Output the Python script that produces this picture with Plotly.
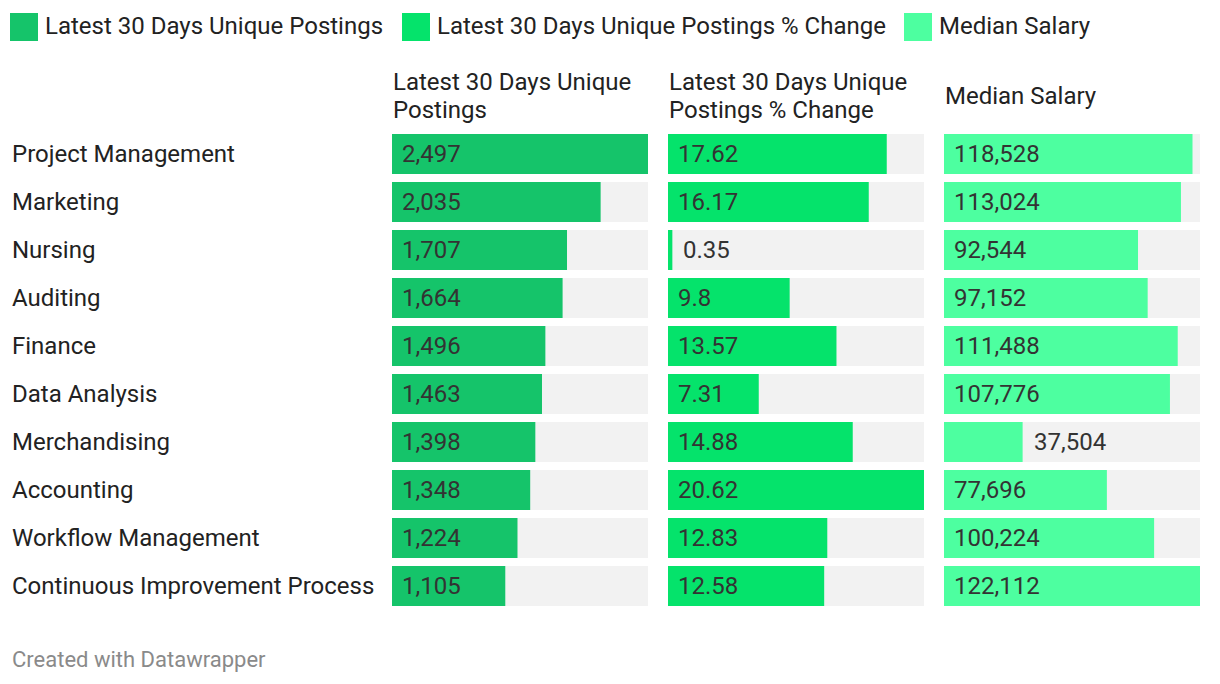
import plotly.graph_objects as go

categories = ["Project Management", "Marketing", "Nursing", "Auditing", "Finance",
              "Data Analysis", "Merchandising", "Accounting", "Workflow Management",
              "Continuous Improvement Process"]
postings = [2497, 2035, 1707, 1664, 1496, 1463, 1398, 1348, 1224, 1105]
pct_change = [17.62, 16.17, 0.35, 9.8, 13.57, 7.31, 14.88, 20.62, 12.83, 12.58]
median_salary = [118528, 113024, 92544, 97152, 111488, 107776, 37504, 77696, 100224, 122112]

series_names = ["Latest 30 Days Unique Postings", "Latest 30 Days Unique Postings % Change", "Median Salary"]
header_lines = [["Latest 30 Days Unique", "Postings"], ["Latest 30 Days Unique", "Postings % Change"], ["Median Salary"]]
colors = ["#15c46a", "#05e36b", "#4dffa0"]
label_fmt = [lambda v: f"{v:,}", lambda v: f"{v:g}", lambda v: f"{v:,}"]

OFF = 8  # page body margin
W, H = 1220 - OFF, 684 - OFF
FONT = "Roboto, 'Noto Sans', sans-serif"
FS = 24


def px(x):
    return (x - OFF) / W


def py(y):
    return 1 - (y - OFF) / H


col_px = [(392, 648), (668, 924), (944, 1200)]
y_top_px, y_bot_px = 130, 610

fig = go.Figure()
annotations = []
shapes = []
series = [postings, pct_change, median_salary]
for i, (vals, color) in enumerate(zip(series, colors)):
    xa = "x" if i == 0 else f"x{i+1}"
    vmax = max(vals)
    fig.add_trace(go.Bar(y=categories, x=[vmax] * len(vals), orientation="h",
                         marker=dict(color="#f2f2f2", line_width=0), xaxis=xa, yaxis="y",
                         hoverinfo="skip", showlegend=False))
    fig.add_trace(go.Bar(y=categories, x=vals, orientation="h", name=series_names[i],
                         marker=dict(color=color, line_width=0), xaxis=xa, yaxis="y",
                         showlegend=False))
    axname = "xaxis" if i == 0 else f"xaxis{i+1}"
    x0, x1 = col_px[i]
    fig.layout[axname] = dict(domain=[px(x0), px(x1)], range=[0, vmax], visible=False,
                              fixedrange=True, anchor="y")
    for c, v in zip(categories, vals):
        outside = v / vmax < 0.33
        annotations.append(dict(x=v if outside else 0, y=c, xref=xa, yref="y",
                                text=label_fmt[i](v), showarrow=False,
                                xanchor="left", yanchor="middle",
                                xshift=9 if outside else 8,
                                font=dict(family=FONT, size=FS, color="#333333")))
    lines = header_lines[i]
    ys = [96] if len(lines) == 1 else [82, 110]
    for t, yy in zip(lines, ys):
        annotations.append(dict(x=px(x0), y=py(yy), xref="paper", yref="paper",
                                text=t, showarrow=False, xanchor="left",
                                yanchor="middle", align="left", xshift=-1,
                                font=dict(family=FONT, size=FS, color="#222222")))

for c in categories:
    annotations.append(dict(x=px(10), y=c, xref="paper", yref="y", text=c, showarrow=False,
                            xanchor="left", yanchor="middle",
                            font=dict(family=FONT, size=FS, color="#222222")))

# legend
legend_x = [10, 402, 904]
for lx, name, color in zip(legend_x, series_names, colors):
    shapes.append(dict(type="rect", xref="paper", yref="paper",
                       x0=px(lx), x1=px(lx + 28), y0=py(41), y1=py(13),
                       fillcolor=color, line_width=0))
    annotations.append(dict(x=px(lx + 33), y=py(26), xref="paper", yref="paper",
                            text=name, showarrow=False, xanchor="left", yanchor="middle",
                            font=dict(family=FONT, size=FS, color="#222222")))

annotations.append(dict(x=px(10), y=py(659), xref="paper", yref="paper",
                        text="Created with Datawrapper", showarrow=False, xanchor="left",
                        yanchor="middle", font=dict(family=FONT, size=22, color="#8a8a8a")))

fig.update_layout(
    width=W, height=H, margin=dict(l=0, r=0, t=0, b=0),
    paper_bgcolor="white", plot_bgcolor="white",
    barmode="overlay", bargap=1 - 40 / 48,
    yaxis=dict(domain=[py(y_bot_px), py(y_top_px)], autorange=False,
               range=[len(categories) - 0.5, -0.5], visible=False, fixedrange=True,
               type="category", categoryorder="array", categoryarray=categories),
    annotations=annotations, shapes=shapes, showlegend=False,
)

fig.write_html("out.html")
